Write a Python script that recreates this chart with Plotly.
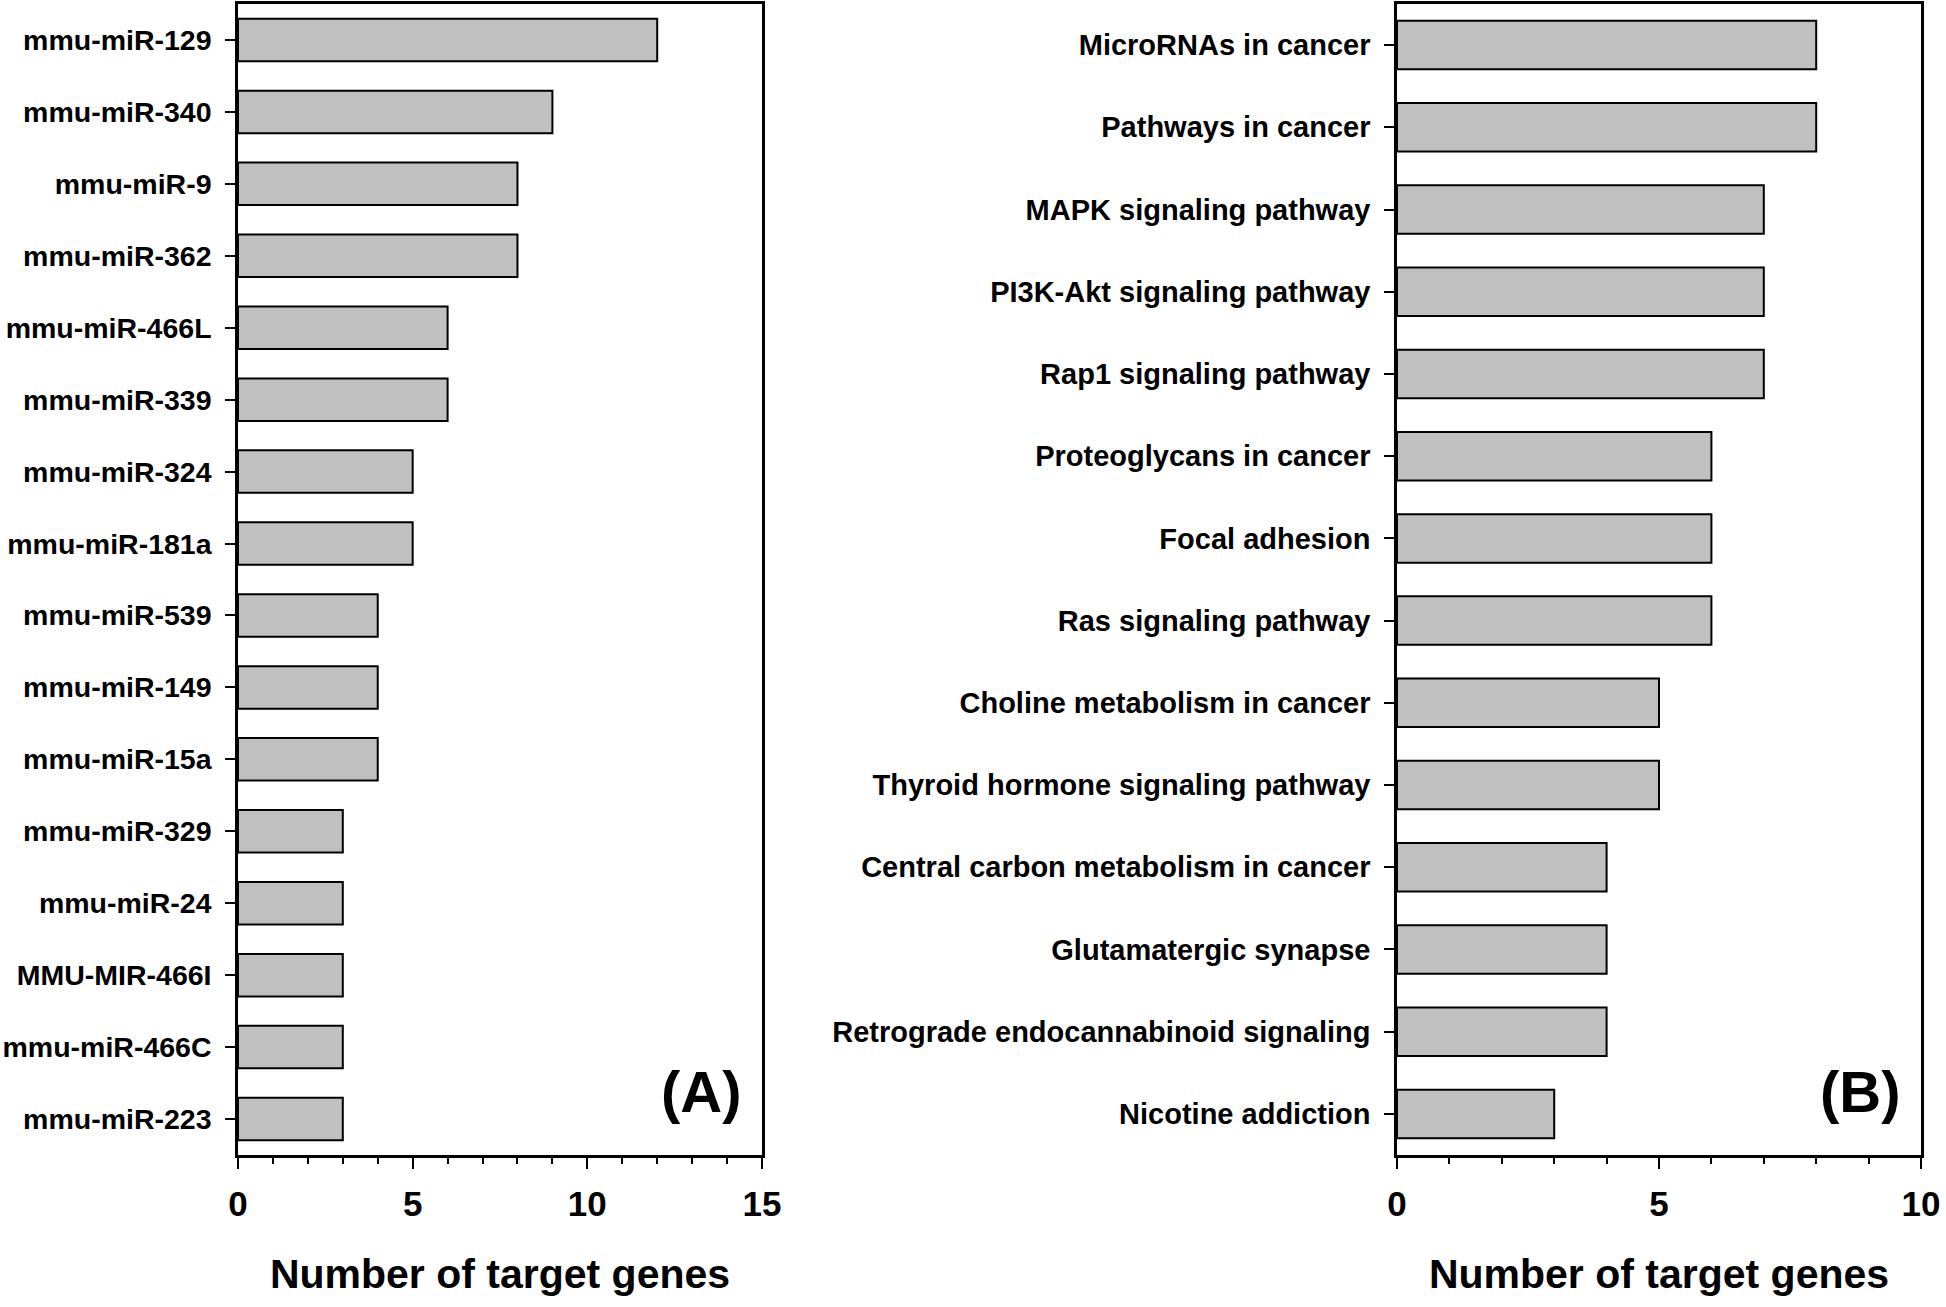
import plotly.graph_objects as go

mirna_labels = ["mmu-miR-129", "mmu-miR-340", "mmu-miR-9", "mmu-miR-362", "mmu-miR-466L",
                "mmu-miR-339", "mmu-miR-324", "mmu-miR-181a", "mmu-miR-539", "mmu-miR-149",
                "mmu-miR-15a", "mmu-miR-329", "mmu-miR-24", "MMU-MIR-466I", "mmu-miR-466C",
                "mmu-miR-223"]
mirna_counts = [12, 9, 8, 8, 6, 6, 5, 5, 4, 4, 4, 3, 3, 3, 3, 3]

pathway_labels = ["MicroRNAs in cancer", "Pathways in cancer", "MAPK signaling pathway",
                  "PI3K-Akt signaling pathway", "Rap1 signaling pathway", "Proteoglycans in cancer",
                  "Focal adhesion", "Ras signaling pathway", "Choline metabolism in cancer",
                  "Thyroid hormone signaling pathway", "Central carbon metabolism in cancer",
                  "Glutamatergic synapse", "Retrograde endocannabinoid signaling", "Nicotine addiction"]
pathway_counts = [8, 8, 7, 7, 7, 6, 6, 6, 5, 5, 4, 4, 4, 3]

x_title = "Number of target genes"
panel_tags = ["(A)", "(B)"]

FONT = "Liberation Sans, Arial, sans-serif"
W, H = 1946, 1307

fig = go.Figure()
fig.add_trace(go.Bar(x=mirna_counts, y=mirna_labels, orientation="h",
                     marker=dict(color="#c0c0c0", line=dict(color="black", width=2)),
                     xaxis="x", yaxis="y", showlegend=False))
fig.add_trace(go.Bar(x=pathway_counts, y=pathway_labels, orientation="h",
                     marker=dict(color="#c0c0c0", line=dict(color="black", width=2)),
                     xaxis="x2", yaxis="y2", showlegend=False))

ytop = 1 - 4 / H
ybot = 1 - 1155 / H

common_x = dict(showgrid=False, zeroline=False, showline=True, linecolor="black", linewidth=2.5,
                mirror=True, ticks="outside", ticklen=11, tickwidth=2, tickcolor="black",
                tickfont=dict(family=FONT, size=35, color="black", weight="bold"),
                ticklabelstandoff=5, automargin=False,
                title=dict(text="<b>" + x_title + "</b>", font=dict(family=FONT, size=41, color="black"),
                           standoff=38),
                minor=dict(ticks="outside", ticklen=6, tickwidth=2, tickcolor="black", dtick=1))
common_y = dict(showgrid=False, zeroline=False, showline=True, linecolor="black", linewidth=2.5,
                mirror=True, ticks="outside", ticklen=10, tickwidth=2, tickcolor="black",
                ticklabelstandoff=8, autorange="reversed", type="category", automargin=False)

fig.update_layout(
    width=W, height=H, margin=dict(l=0, r=0, t=0, b=0, autoexpand=False),
    paper_bgcolor="white", plot_bgcolor="white",
    bargap=0.41,
    xaxis=dict(domain=[238 / W, 762 / W], range=[0, 15], tickvals=[0, 5, 10, 15], anchor="y", **common_x),
    yaxis=dict(domain=[ybot, ytop], anchor="x",
               tickfont=dict(family=FONT, size=28.5, color="black", weight="bold"), **common_y),
    xaxis2=dict(domain=[1397 / W, 1921 / W], range=[0, 10], tickvals=[0, 5, 10], anchor="y2", **common_x),
    yaxis2=dict(domain=[ybot, ytop], anchor="x2",
                tickfont=dict(family=FONT, size=29, color="black", weight="bold"), **common_y),
)

fig.add_annotation(text="<b>" + panel_tags[0] + "</b>", xref="x domain", yref="y domain",
                   x=0.965, y=0.025, xanchor="right", yanchor="bottom", showarrow=False,
                   font=dict(family=FONT, size=58, color="black"))
fig.add_annotation(text="<b>" + panel_tags[1] + "</b>", xref="x2 domain", yref="y2 domain",
                   x=0.965, y=0.025, xanchor="right", yanchor="bottom", showarrow=False,
                   font=dict(family=FONT, size=58, color="black"))

fig.write_html("out.html", config={"displayModeBar": False},
               post_script="document.body.style.margin='0';document.body.style.overflow='hidden';")
